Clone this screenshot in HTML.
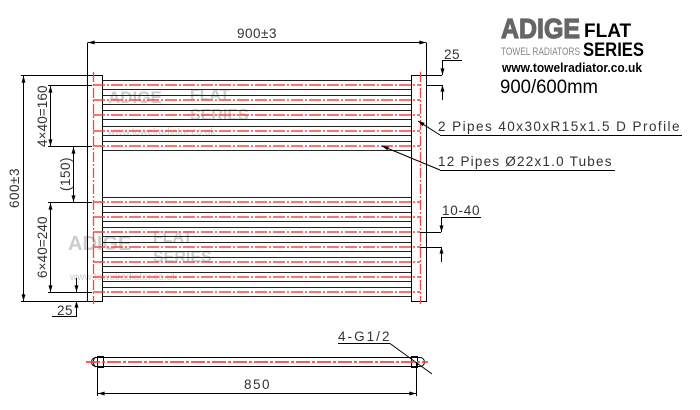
<!DOCTYPE html>
<html><head><meta charset="utf-8"><style>
html,body{margin:0;padding:0;background:#fff;width:700px;height:410px;overflow:hidden}
svg{display:block}
.t{font-family:"Liberation Sans",sans-serif;fill:#333;font-size:13.5px;letter-spacing:0.5px}
</style></head><body>
<svg width="700" height="410" viewBox="0 0 700 410" xmlns="http://www.w3.org/2000/svg">
<defs>
<marker id="a" viewBox="0 0 10 6" refX="10" refY="3" markerWidth="8" markerHeight="4" orient="auto-start-reverse"><path d="M0,0 L10,3 L0,6z" fill="#000"/></marker>
</defs>
<!-- watermarks -->
<g fill="#ccc" font-family="Liberation Sans,sans-serif" font-weight="bold">
<text x="108" y="103" font-size="17">ADIGE</text><text x="190" y="100" font-size="16">FLAT</text><text x="190" y="120" font-size="16">SERIES</text>
<text x="108" y="135" font-size="10" font-weight="normal">www.towelradiator.co.uk</text>
<text x="68" y="250" font-size="20">ADIGE</text><text x="153" y="242" font-size="16">FLAT</text><text x="153" y="262" font-size="16">SERIES</text>
<text x="70" y="280" font-size="10" font-weight="normal">www.towelradiator.co.uk</text>
</g>
<g stroke="#000" stroke-width="1" fill="none">
<rect x="87.5" y="75.5" width="15" height="226"/>
<rect x="411.5" y="75.5" width="15" height="226"/>
</g>
<g stroke="#f44" stroke-width="1.3" stroke-dasharray="10,2,2,2">
<line x1="93.5" y1="72" x2="93.5" y2="304"/>
<line x1="420.5" y1="72" x2="420.5" y2="304"/>
</g>
<g>
<g stroke="#222" stroke-width="1">
<line x1="102" y1="80.5" x2="411" y2="80.5"/><line x1="102" y1="89.5" x2="411" y2="89.5"/>
<line x1="102" y1="95.5" x2="411" y2="95.5"/><line x1="102" y1="104.5" x2="411" y2="104.5"/>
<line x1="102" y1="110.5" x2="411" y2="110.5"/><line x1="102" y1="119.5" x2="411" y2="119.5"/>
<line x1="102" y1="126.5" x2="411" y2="126.5"/><line x1="102" y1="135.5" x2="411" y2="135.5"/>
<line x1="102" y1="141.5" x2="411" y2="141.5"/><line x1="102" y1="150.5" x2="411" y2="150.5"/>
<line x1="102" y1="197.5" x2="411" y2="197.5"/><line x1="102" y1="206.5" x2="411" y2="206.5"/>
<line x1="102" y1="212.5" x2="411" y2="212.5"/><line x1="102" y1="221.5" x2="411" y2="221.5"/>
<line x1="102" y1="227.5" x2="411" y2="227.5"/><line x1="102" y1="236.5" x2="411" y2="236.5"/>
<line x1="102" y1="242.5" x2="411" y2="242.5"/><line x1="102" y1="251.5" x2="411" y2="251.5"/>
<line x1="102" y1="257.5" x2="411" y2="257.5"/><line x1="102" y1="266.5" x2="411" y2="266.5"/>
<line x1="102" y1="272.5" x2="411" y2="272.5"/><line x1="102" y1="281.5" x2="411" y2="281.5"/>
<line x1="102" y1="287.5" x2="411" y2="287.5"/><line x1="102" y1="296.5" x2="411" y2="296.5"/>
</g>
<g stroke="#f44" stroke-width="1.6" stroke-dasharray="12,2,2,2">
<line x1="93" y1="85" x2="420" y2="85"/><line x1="93" y1="100" x2="420" y2="100"/>
<line x1="93" y1="115" x2="420" y2="115"/><line x1="93" y1="131" x2="420" y2="131"/>
<line x1="93" y1="146" x2="420" y2="146"/>
<line x1="93" y1="202" x2="420" y2="202"/><line x1="93" y1="217" x2="420" y2="217"/>
<line x1="93" y1="232" x2="420" y2="232"/><line x1="93" y1="247" x2="420" y2="247"/>
<line x1="93" y1="262" x2="420" y2="262"/><line x1="93" y1="277" x2="420" y2="277"/>
<line x1="93" y1="292" x2="420" y2="292"/>
</g>
</g>
<g stroke="#000" stroke-width="1" fill="none">
<line x1="87.5" y1="42.5" x2="87.5" y2="75"/><line x1="426.5" y1="42.5" x2="426.5" y2="75"/>
<line x1="88" y1="42.5" x2="426" y2="42.5" marker-start="url(#a)" marker-end="url(#a)"/>
<line x1="21" y1="75.5" x2="87" y2="75.5"/><line x1="21" y1="301.5" x2="87" y2="301.5"/>
<line x1="23.5" y1="76" x2="23.5" y2="301" marker-start="url(#a)" marker-end="url(#a)"/>
<line x1="48" y1="85.5" x2="92" y2="85.5"/><line x1="48" y1="146.5" x2="92" y2="146.5"/>
<line x1="50.5" y1="86" x2="50.5" y2="146" marker-start="url(#a)" marker-end="url(#a)"/>
<line x1="73.5" y1="147" x2="73.5" y2="202" marker-start="url(#a)" marker-end="url(#a)"/>
<line x1="48" y1="202.5" x2="92" y2="202.5"/><line x1="48" y1="292.5" x2="92" y2="292.5"/>
<line x1="50.5" y1="203" x2="50.5" y2="292" marker-start="url(#a)" marker-end="url(#a)"/>
<line x1="76.5" y1="278" x2="76.5" y2="292" marker-end="url(#a)"/>
<line x1="76.5" y1="316" x2="76.5" y2="301" marker-end="url(#a)"/>
<line x1="52" y1="316.5" x2="77" y2="316.5"/>
<line x1="427" y1="75.5" x2="442" y2="75.5"/><line x1="427" y1="85.5" x2="442" y2="85.5"/>
<line x1="442.5" y1="60" x2="442.5" y2="75" marker-end="url(#a)"/>
<line x1="442.5" y1="100" x2="442.5" y2="85" marker-end="url(#a)"/>
<line x1="442" y1="60.5" x2="462" y2="60.5"/>
<line x1="420" y1="232.5" x2="441" y2="232.5"/><line x1="420" y1="247.5" x2="441" y2="247.5"/>
<line x1="441.5" y1="217" x2="441.5" y2="232" marker-end="url(#a)"/>
<line x1="441.5" y1="262" x2="441.5" y2="247" marker-end="url(#a)"/>
<line x1="441" y1="217.5" x2="481" y2="217.5"/>
<line x1="440" y1="135" x2="418" y2="121" marker-end="url(#a)"/>
<line x1="440" y1="135.5" x2="682" y2="135.5"/>
<line x1="440" y1="170" x2="382" y2="146" marker-end="url(#a)"/>
<line x1="440" y1="170.5" x2="615" y2="170.5"/>
</g>
<g class="t">
<text x="257" y="38" text-anchor="middle" textLength="40" lengthAdjust="spacingAndGlyphs">900±3</text>
<text transform="translate(19,188) rotate(-90)" text-anchor="middle" textLength="40">600±3</text>
<text transform="translate(47,116) rotate(-90)" text-anchor="middle" textLength="62">4×40=160</text>
<text transform="translate(70,174) rotate(-90)" text-anchor="middle">(150)</text>
<text transform="translate(47,247) rotate(-90)" text-anchor="middle" textLength="62">6×40=240</text>
<text x="57" y="315">25</text>
<text x="444" y="59">25</text>
<text x="442" y="215" textLength="38">10-40</text>
<text x="438" y="131" textLength="242" lengthAdjust="spacing">2 Pipes 40x30xR15x1.5 D Profile</text>
<text x="438" y="166" textLength="174" lengthAdjust="spacing">12 Pipes Ø22x1.0 Tubes</text>
<text x="338" y="341" textLength="52">4-G1/2</text>
<text x="257" y="389" text-anchor="middle" textLength="26">850</text>
</g>
<g stroke="#000" stroke-width="1" fill="none">
<path d="M96,357.5 L420,357.5 A4.5,4.5 0 0 1 420,366.5 L96,366.5 A4.5,4.5 0 0 1 96,357.5Z"/>
<path d="M96,357 A6,6 0 0 0 96,367"/>
<rect x="97.5" y="356.5" width="6" height="11"/>
<rect x="411.5" y="356.5" width="6" height="11"/>
<line x1="338" y1="343.5" x2="390" y2="343.5"/>
<line x1="390" y1="343.5" x2="432" y2="374"/>
<line x1="97.5" y1="362" x2="97.5" y2="396"/><line x1="416.5" y1="362" x2="416.5" y2="396"/>
<line x1="98" y1="393.5" x2="416" y2="393.5" marker-start="url(#a)" marker-end="url(#a)"/>
</g>
<line x1="86" y1="362" x2="428" y2="362" stroke="#f44" stroke-width="1.8" stroke-dasharray="14,2,3,2"/>
<text x="501" y="38" font-family="Liberation Sans,sans-serif" font-weight="bold" font-size="28" fill="#666" stroke="#666" stroke-width="1.2" textLength="79" lengthAdjust="spacingAndGlyphs">ADIGE</text>
<text x="501" y="55" font-family="Liberation Sans,sans-serif" font-size="11" fill="#888" textLength="79" lengthAdjust="spacingAndGlyphs">TOWEL RADIATORS</text>
<text x="584" y="37" font-family="Liberation Sans,sans-serif" font-weight="bold" font-size="19" fill="#000">FLAT</text>
<text x="583" y="56" font-family="Liberation Sans,sans-serif" font-weight="bold" font-size="19" fill="#000" textLength="61" lengthAdjust="spacingAndGlyphs">SERIES</text>
<text x="502" y="72" font-family="Liberation Sans,sans-serif" font-weight="bold" font-size="13" fill="#000" textLength="140" lengthAdjust="spacingAndGlyphs">www.towelradiator.co.uk</text>
<text x="500" y="93" font-family="Liberation Sans,sans-serif" font-size="19" fill="#000" textLength="98" lengthAdjust="spacingAndGlyphs">900/600mm</text>
</svg>
</body></html>
